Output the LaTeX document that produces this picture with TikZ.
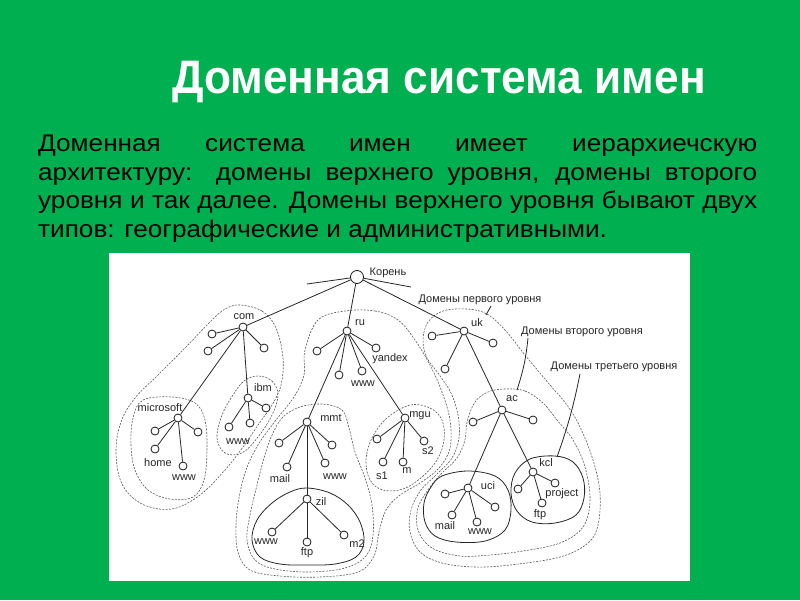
\documentclass[tikz,border=0pt]{standalone}
\usepackage{fontspec}
\setmainfont{Liberation Sans}
\newfontfamily\parafont[FakeStretch=1.09]{Liberation Sans}
\newfontfamily\titlefont[FakeStretch=0.94]{Liberation Sans}
\definecolor{slidegreen}{RGB}{0,176,80}
\tikzset{
  dot/.style={circle, draw=black!90, fill=white, line width=0.8pt, minimum size=8pt, inner sep=0pt},
  rootdot/.style={dot, minimum size=13pt},
  lbl/.style={font=\fontsize{11}{12}\selectfont, inner sep=0pt, text=black!85},
  edge/.style={line width=0.8pt, draw=black!85},
  zoneA/.style={draw=black!65, line width=0.6pt, dash pattern=on 2pt off 1.3pt},
  zoneC/.style={draw=black!85, line width=0.8pt},
  para/.style={font=\parafont\fontsize{24}{28}\selectfont, inner sep=0pt, anchor=base west, text=black},
}
\begin{document}
\begin{tikzpicture}[x=1pt,y=-1pt]
\useasboundingbox (0,0) rectangle (800,600);
\fill[slidegreen] (0,0) rectangle (800,600);
\fill[white] (109,253) rectangle (690,581);

% title and text
\node[anchor=base, text=white, inner sep=0pt, font=\titlefont\fontsize{47}{52}\selectfont\bfseries] (title) at (439,93) {Доменная система имен};
\node[para] (p1) at (38,151.7) {\makebox[719pt][s]{Доменная система имен имеет иерархиечскую}};
\node[para] (p2) at (38,180.3) {\makebox[719pt][s]{архитектуру: домены верхнего уровня, домены второго}};
\node[para] (p3) at (38,208.9) {\makebox[719pt][s]{уровня и так далее. Домены верхнего уровня бывают двух}};
\node[para] (p4) at (38,237.5) {типов: географические и административными.};

% ---- zones ----
% com
\draw[zoneA] plot[smooth cycle, tension=0.6] coordinates {(240,305) (262,311) (276,328) (283,358) (281,385) (272,405) (258,425) (243,447) (225,470) (200,495) (172,509) (142,504) (122,484) (116,452) (121,422) (135,398) (158,375) (185,348) (210,322) (225,309)};
\draw[zoneA] plot[smooth cycle, tension=0.6] coordinates {(143,400) (172,397) (195,403) (205,420) (207,450) (204,480) (193,497) (170,499) (148,490) (135,470) (131,445) (133,418)};
\draw[zoneA] plot[smooth cycle, tension=0.6] coordinates {(258,376) (272,381) (278,395) (272,415) (258,437) (242,453) (225,453) (217,438) (222,415) (233,395) (244,381)};
% ru
\draw[zoneA] plot[smooth cycle, tension=0.6] coordinates {(345,311) (375,311) (398,320) (415,340) (430,365) (442,392) (450,420) (450,448) (439,468) (420,483) (400,495) (386,510) (379,532) (374,556) (358,572) (320,577) (280,576) (250,570) (238,552) (236,525) (239,498) (246,470) (258,445) (276,420) (294,397) (304,375) (305,350) (318,320)};
\draw[zoneA] plot[smooth cycle, tension=0.6] coordinates {(322,404) (342,410) (349,428) (355,452) (365,478) (372,505) (373,535) (366,556) (345,568) (310,572) (275,569) (255,560) (247,540) (250,515) (257,485) (264,458) (272,435) (283,417) (300,407)};
\draw[zoneC] plot[smooth cycle, tension=0.6] coordinates {(307,488) (330,493) (348,505) (360,522) (364,542) (356,557) (335,564) (307,565) (280,564) (260,557) (252,540) (257,520) (272,503) (290,492)};
\draw[zoneA] plot[smooth cycle, tension=0.6] coordinates {(410,405) (430,408) (442,420) (444,440) (437,460) (422,477) (403,489) (383,490) (370,480) (366,460) (372,438) (387,418)};
% uk
\draw[zoneA] plot[smooth cycle, tension=0.6] coordinates {(467,309) (487,314) (505,330) (525,355) (550,385) (567,405) (580,427) (593,460) (600,493) (598,525) (588,543) (560,557) (510,565) (475,567) (442,563) (420,552) (410,532) (411,510) (421,490) (436,475) (452,458) (459,438) (458,415) (451,393) (438,373) (427,358) (423,340) (428,322) (443,311)};
\draw[zoneA] plot[smooth cycle, tension=0.6] coordinates {(505,389) (525,391) (543,403) (557,420) (573,440) (585,467) (590,500) (583,527) (560,543) (523,551) (490,555) (460,556) (432,548) (418,530) (418,508) (430,487) (443,472) (457,458) (465,440) (467,422) (475,402) (488,392)};
\draw[zoneC] plot[smooth cycle, tension=0.6] coordinates {(442,476) (468,471) (495,476) (508,490) (511,510) (505,530) (485,541) (456,542) (435,536) (425,522) (424,503) (431,487)};
\draw[zoneC] plot[smooth cycle, tension=0.6] coordinates {(530,459) (555,456) (573,462) (583,478) (584,498) (576,515) (555,523) (532,522) (517,511) (511,493) (515,473)};

% ---- nodes ----
\node[rootdot] (root) at (357,277) {};
\coordinate (stubL) at (307,284);
\coordinate (stubR) at (411,287);
\node[dot] (com) at (243,327) {};
\node[dot] (c1) at (212,334) {};
\node[dot] (c2) at (208,351) {};
\node[dot] (c3) at (264,348) {};
\node[dot] (ibm) at (248,398) {};
\node[dot] (i1) at (229,427) {};
\node[dot] (i2) at (250,423) {};
\node[dot] (i3) at (266,408) {};
\node[dot] (ms) at (178,418) {};
\node[dot] (m1) at (155,431) {};
\node[dot] (m2) at (155,449) {};
\node[dot] (m3) at (183,466) {};
\node[dot] (m4) at (198,432) {};
\node[dot] (ru) at (347,331) {};
\node[dot] (r1) at (317,351) {};
\node[dot] (r2) at (339,375) {};
\node[dot] (r3) at (362,371) {};
\node[dot] (r4) at (376,348) {};
\node[dot] (mmt) at (307,422) {};
\node[dot] (t1) at (279,443) {};
\node[dot] (t2) at (287,467) {};
\node[dot] (t3) at (325,463) {};
\node[dot] (t4) at (332,445) {};
\node[dot] (zil) at (307,499) {};
\node[dot] (z1) at (272,532) {};
\node[dot] (z2) at (307,542) {};
\node[dot] (z3) at (344,535) {};
\node[dot] (mgu) at (405,418) {};
\node[dot] (g1) at (377,439) {};
\node[dot] (g2) at (383,462) {};
\node[dot] (g3) at (403,462) {};
\node[dot] (g4) at (424,441) {};
\node[dot] (uk) at (464,331) {};
\node[dot] (u1) at (432,336) {};
\node[dot] (u2) at (445,369) {};
\node[dot] (u3) at (493,343) {};
\node[dot] (ac) at (502,410) {};
\node[dot] (a1) at (473,422) {};
\node[dot] (a2) at (533,420) {};
\node[dot] (uci) at (468,488) {};
\node[dot] (x1) at (445,494) {};
\node[dot] (x2) at (452,515) {};
\node[dot] (x3) at (477,522) {};
\node[dot] (x4) at (495,507) {};
\node[dot] (kcl) at (533,472) {};
\node[dot] (k1) at (518,489) {};
\node[dot] (k2) at (542,503) {};
\node[dot] (k3) at (555,483) {};

% ---- edges ----
\draw[edge] (root) -- (stubL);
\draw[edge] (root) -- (stubR);
\draw[edge] (root) -- (com);
\draw[edge] (root) -- (ru);
\draw[edge] (root) -- (uk);
\foreach \c in {c1,c2,c3,ibm,ms} \draw[edge] (com) -- (\c);
\foreach \c in {i1,i2,i3} \draw[edge] (ibm) -- (\c);
\foreach \c in {m1,m2,m3,m4} \draw[edge] (ms) -- (\c);
\foreach \c in {r1,r2,r3,r4,mmt,mgu} \draw[edge] (ru) -- (\c);
\foreach \c in {t1,t2,t3,t4,zil} \draw[edge] (mmt) -- (\c);
\foreach \c in {z1,z2,z3} \draw[edge] (zil) -- (\c);
\foreach \c in {g1,g2,g3,g4} \draw[edge] (mgu) -- (\c);
\foreach \c in {u1,u2,u3,ac} \draw[edge] (uk) -- (\c);
\foreach \c in {a1,a2,uci,kcl} \draw[edge] (ac) -- (\c);
\foreach \c in {x1,x2,x3,x4} \draw[edge] (uci) -- (\c);
\foreach \c in {k1,k2,k3} \draw[edge] (kcl) -- (\c);

% ---- labels ----
\node[lbl] (lroot) at (388,273) {Корень};
\node[lbl] (lcom) at (244,317) {com};
\node[lbl] (libm) at (263,388) {ibm};
\node[lbl] (lms) at (160,408) {microsoft};
\node[lbl] (lhome) at (158,463) {home};
\node[lbl] (lmsw) at (184,478) {www};
\node[lbl] (libmw) at (238,442) {www};
\node[lbl] (lru) at (360,323) {ru};
\node[lbl] (lyan) at (390,359) {yandex};
\node[lbl] (lruw) at (363,384) {www};
\node[lbl] (luk) at (477,323) {uk};
\node[lbl] (lmmt) at (331,418) {mmt};
\node[lbl] (lmail) at (280,479) {mail};
\node[lbl] (lmmtw) at (335,477) {www};
\node[lbl] (lzil) at (321,502) {zil};
\node[lbl] (lzilw) at (266,542) {www};
\node[lbl] (lzilf) at (307,553) {ftp};
\node[lbl] (lm2) at (357,544) {m2};
\node[lbl] (lmgu) at (420,416) {mgu};
\node[lbl] (ls1) at (382,476) {s1};
\node[lbl] (lm) at (407,471) {m};
\node[lbl] (ls2) at (428,451) {s2};
\node[lbl] (lac) at (512,399) {ac};
\node[lbl] (luci) at (488,486) {uci};
\node[lbl] (lucim) at (445,526) {mail};
\node[lbl] (luciw) at (480,532) {www};
\node[lbl] (lkcl) at (546,463) {kcl};
\node[lbl] (lproj) at (562,494) {project};
\node[lbl] (lkclf) at (540,515) {ftp};

\node[lbl] (lev1) at (480,300) {Домены первого уровня};
\node[lbl] (lev2) at (582,332) {Домены второго уровня};
\node[lbl] (lev3) at (614,367) {Домены третьего уровня};
\coordinate (e1a) at (491,306);
\coordinate (e1b) at (486,315);
\coordinate (e2a) at (528,338);
\coordinate (e2b) at (517,390);
\coordinate (e3a) at (580,374);
\coordinate (e3b) at (557,457);
\draw[edge] (e1a) -- (e1b);
\draw[edge] (e2a) to[bend left=6] (e2b);
\draw[edge] (e3a) to[bend left=4] (e3b);
\end{tikzpicture}
\end{document}
